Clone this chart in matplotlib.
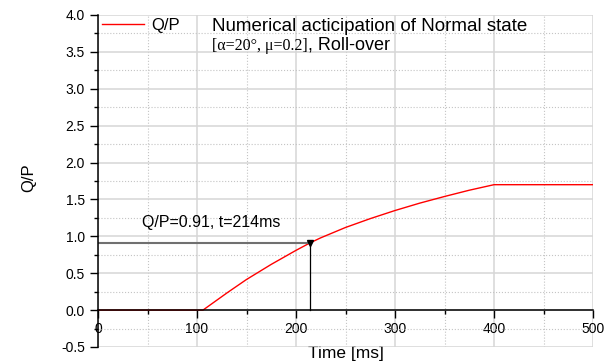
import numpy as np
import matplotlib
matplotlib.use('Agg')
import matplotlib.pyplot as plt
from matplotlib.ticker import MultipleLocator, FormatStrFormatter

# data
time_ms = [0, 106, 131, 150, 175, 200, 214, 225, 250, 275, 300, 325, 350, 375, 400, 500]
q_over_p = [0, 0, 0.24, 0.415, 0.62, 0.81, 0.91, 0.98, 1.12, 1.24, 1.35, 1.45, 1.54, 1.625, 1.70, 1.70]
mark_t = 214
mark_qp = 0.91

plt.rcParams['font.family'] = ['Liberation Sans', 'DejaVu Sans']

fig = plt.figure(figsize=(6.15, 3.63), dpi=100)
ax = fig.add_axes([98 / 615, 1 - 347 / 363, 495 / 615, 332 / 363])

ax.plot(time_ms, q_over_p, color='red', lw=1, label='Q/P')

# reading lines at t=214 ms
ax.plot([0, mark_t], [mark_qp, mark_qp], color='#707070', lw=1.5)
ax.plot([mark_t, mark_t], [0, mark_qp], color='black', lw=0.9)
ax.plot(mark_t, mark_qp, marker='v', color='black', ms=5)
ax.text(44, 1.12, 'Q/P=%.2f, t=%dms' % (mark_qp, mark_t), fontsize=11.5, va='baseline')

ax.set_xlim(0, 500)
ax.set_ylim(-0.5, 4.0)
ax.xaxis.set_major_locator(MultipleLocator(100))
ax.xaxis.set_minor_locator(MultipleLocator(50))
ax.yaxis.set_major_locator(MultipleLocator(0.5))
ax.yaxis.set_minor_locator(MultipleLocator(0.25))
ax.yaxis.set_major_formatter(FormatStrFormatter('%.1f'))

ax.grid(which='major', color='#d6d6d6', lw=1.1, ls='-')
ax.grid(which='minor', color='#c4c4c4', lw=0.8, ls=':')
ax.set_axisbelow(True)

for s in ['top', 'right']:
    ax.spines[s].set_visible(False)
ax.spines['bottom'].set_position(('data', 0))
ax.spines['left'].set_position(('data', 0))
ax.spines['bottom'].set_linewidth(1.1)
ax.spines['left'].set_linewidth(1.1)

ax.tick_params(which='major', direction='out', length=5.5, width=1, labelsize=10)
ax.tick_params(which='minor', direction='out', length=3, width=1)
ax.tick_params(axis='x', pad=3)
ax.tick_params(axis='y', pad=4)

ax.set_xlabel('Time [ms]', fontsize=12.5)
ax.xaxis.label.set_va('baseline')
ax.xaxis.set_label_coords(0.501, -0.033)
ax.set_ylabel('Q/P', fontsize=12, va='center')
ax.yaxis.set_label_coords(-0.139, 0.509)

ax.legend(loc='upper left', bbox_to_anchor=(0.008, 0.992), frameon=False,
          borderpad=0, borderaxespad=0, handlelength=2.5, handletextpad=0.45,
          fontsize=12)

ax.text(114 / 495, 0.952, 'Numerical acticipation of Normal state',
        transform=ax.transAxes, fontsize=13.5, va='baseline')
t1 = ax.text(114 / 495, 0.8946, '[\u03b1=20\u00b0, \u03bc=0.2]',
             transform=ax.transAxes, fontsize=11.5, va='baseline',
             family=['Liberation Serif', 'DejaVu Serif'])
ax.annotate(', Roll-over', xy=(1, 0.8946), xycoords=(t1, 'axes fraction'),
            va='baseline', fontsize=13)

fig.savefig('out.png', dpi=100)
